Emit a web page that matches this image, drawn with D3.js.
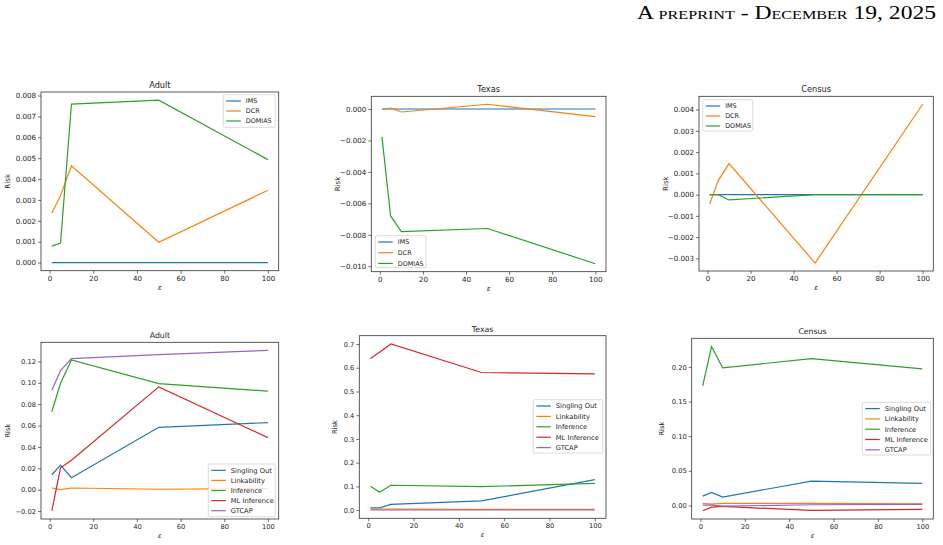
<!DOCTYPE html>
<html>
<head>
<meta charset="utf-8">
<script src="https://cdn.jsdelivr.net/npm/d3@7"></script>
<style>
  body { margin: 0; background: #fff; }
  svg text { font-family: "DejaVu Sans", sans-serif; fill: #222; }
  .header { font-family: "Liberation Serif", "DejaVu Serif", serif; font-variant: small-caps; fill: #000; }
</style>
</head>
<body>
<svg id="chart" width="943" height="545"></svg>
<script>
// epsilon values shared by every panel
const eps = [1, 5, 10, 50, 100];
const xTicks = [0, 20, 40, 60, 80, 100];

// top row: IMS / DCR / DOMIAS
const adultIMS = [0, 0, 0, 0, 0];
const adultDCR = [0.00237, 0.0032, 0.00464, 0.00097, 0.00346];
const adultDOMIAS = [0.00079, 0.00094, 0.00759, 0.00778, 0.00493];

const texasIMS = [0, 0, 0, 0, 0];
const texasDCR = [-0.00003, 0.00005, -0.00019, 0.0003, -0.00049];
const texasDOMIAS = [-0.00177, -0.0068, -0.0078, -0.0076, -0.00984];

const censusIMS = [0, 0, 0, 0, 0];
const censusDCR = [-0.00044, 0.00066, 0.00146, -0.00322, 0.00425];
const censusDOMIAS = [0, 0, -0.00025, 0, 0];

// bottom row: anonymeter-style risks
const adultSingling = [0.014, 0.023, 0.0112, 0.0584, 0.0627];
const adultLink = [0.0016, 0.0001, 0.0016, 0.0004, 0.001];
const adultInference = [0.0729, 0.0996, 0.1214, 0.0993, 0.0922];
const adultML = [-0.0199, 0.0205, 0.0276, 0.0962, 0.0487];
const adultGTCAP = [0.0931, 0.1114, 0.1226, 0.1263, 0.1304];

const texasSingling = [0.0098, 0.0098, 0.024, 0.039, 0.1285];
const texasLink = [0.004, 0.004, 0.004, 0.0035, 0.0035];
const texasInference = [0.1006, 0.0755, 0.1048, 0.0992, 0.113];
const texasML = [0.6385, 0.665, 0.7, 0.58, 0.574];
const texasGTCAP = [0.0005, 0.0005, 0.0005, 0.0005, 0.0005];

const censusSingling = [0.0135, 0.0188, 0.012, 0.0352, 0.0318];
const censusLink = [0.0029, 0.002, 0.0029, 0.0029, 0.0024];
const censusInference = [0.1725, 0.2294, 0.1986, 0.212, 0.197];
const censusML = [-0.0077, -0.0024, -0.0014, -0.0072, -0.0058];
const censusGTCAP = [0.0005, 0.0005, -0.001, 0.001, 0.0015];

// y tick values per panel
const adultTopTicks = [0, 0.001, 0.002, 0.003, 0.004, 0.005, 0.006, 0.007, 0.008];
const texasTopTicks = [0, -0.002, -0.004, -0.006, -0.008, -0.010];
const censusTopTicks = [-0.003, -0.002, -0.001, 0, 0.001, 0.002, 0.003, 0.004];
const adultBotTicks = [-0.02, 0, 0.02, 0.04, 0.06, 0.08, 0.10, 0.12];
const texasBotTicks = [0, 0.1, 0.2, 0.3, 0.4, 0.5, 0.6, 0.7];
const censusBotTicks = [0, 0.05, 0.10, 0.15, 0.20];

const topNames = ["IMS", "DCR", "DOMIAS"];
const botNames = ["Singling Out", "Linkability", "Inference", "ML Inference", "GTCAP"];
const colors = ["#1f77b4", "#ff7f0e", "#2ca02c", "#d62728", "#9467bd"];

let svg = d3.select("#chart");

svg.append("text")
   .attr("class", "header")
   .attr("x", 936)
   .attr("y", 19)
   .attr("text-anchor", "end")
   .attr("font-size", 19)
   .attr("textLength", 299)
   .attr("lengthAdjust", "spacingAndGlyphs")
   .text("A preprint - December 19, 2025");

let panels = [
  { title: "Adult", box: [41, 92, 278.7, 270.7], series: [adultIMS, adultDCR, adultDOMIAS], names: topNames,
    yTicks: adultTopTicks, fmt: ".3f", font: 7.1, legFont: 6.4, legend: [223.3, 94.7, 52, 32.6], legStep: 10 },
  { title: "Texas", box: [371.3, 96.3, 606, 271.7], series: [texasIMS, texasDCR, texasDOMIAS], names: topNames,
    yTicks: texasTopTicks, fmt: ".3f", font: 7.1, legFont: 6.4, legend: [375.3, 235.7, 50.7, 32], legStep: 10.7 },
  { title: "Census", box: [699, 96.3, 933.3, 271], series: [censusIMS, censusDCR, censusDOMIAS], names: topNames,
    yTicks: censusTopTicks, fmt: ".3f", font: 7.1, legFont: 6.4, legend: [702.7, 99.7, 50, 31.3], legStep: 10 },
  { title: "Adult", box: [41, 342.3, 278.7, 519], series: [adultSingling, adultLink, adultInference, adultML, adultGTCAP], names: botNames,
    yTicks: adultBotTicks, fmt: ".2f", font: 6.7, legFont: 6.7, legend: [208.3, 464, 67, 52.7], legStep: 10.1 },
  { title: "Texas", box: [359.3, 335.7, 606, 518.3], series: [texasSingling, texasLink, texasInference, texasML, texasGTCAP], names: botNames,
    yTicks: texasBotTicks, fmt: ".1f", font: 6.7, legFont: 6.7, legend: [533.3, 399.7, 69.4, 53.3], legStep: 10.4 },
  { title: "Census", box: [691.7, 338.3, 933.3, 519], series: [censusSingling, censusLink, censusInference, censusML, censusGTCAP], names: botNames,
    yTicks: censusBotTicks, fmt: ".2f", font: 6.7, legFont: 6.7, legend: [862.3, 402.3, 68.4, 52.7], legStep: 10.3 }
];

panels.forEach(drawPanel);

function drawPanel(p){
  let [x0, y0, x1, y1] = p.box;

  // matplotlib-like 5% margins
  let xExt = d3.extent(eps);
  let xPad = (xExt[1] - xExt[0]) * 0.05;
  let allY = p.series.flat();
  let yExt = d3.extent(allY);
  let yPad = (yExt[1] - yExt[0]) * 0.05;

  let xScale = d3.scaleLinear()
                 .domain([xExt[0] - xPad, xExt[1] + xPad])
                 .range([x0, x1]);
  let yScale = d3.scaleLinear()
                 .domain([yExt[0] - yPad, yExt[1] + yPad])
                 .range([y1, y0]);

  let g = svg.append("g");

  // axes
  let xAxis = d3.axisBottom(xScale).tickValues(xTicks).tickSize(3).tickPadding(2);
  let yAxis = d3.axisLeft(yScale).tickValues(p.yTicks).tickSize(3).tickPadding(2)
                .tickFormat(d3.format(p.fmt));

  let xg = g.append("g").attr("transform", `translate(0, ${y1})`).call(xAxis);
  let yg = g.append("g").attr("transform", `translate(${x0}, 0)`).call(yAxis);
  [xg, yg].forEach(a => {
    a.select(".domain").remove();
    a.selectAll("line").attr("stroke", "#333").attr("stroke-width", 0.7);
    a.selectAll("text").attr("font-size", p.font).attr("font-family", "DejaVu Sans").attr("fill", "#222");
  });

  // lines
  let lineGen = d3.line()
                  .x((d, i) => xScale(eps[i]))
                  .y(d => yScale(d));

  p.series.forEach((s, i) => {
    g.append("path")
     .datum(s)
     .attr("d", lineGen)
     .attr("fill", "none")
     .attr("stroke", colors[i])
     .attr("stroke-width", 1.2);
  });

  // frame
  g.append("rect")
   .attr("x", x0).attr("y", y0)
   .attr("width", x1 - x0).attr("height", y1 - y0)
   .attr("fill", "none")
   .attr("stroke", "#333")
   .attr("stroke-width", 0.8);

  // title and labels
  g.append("text")
   .attr("x", (x0 + x1) / 2)
   .attr("y", y0 - 4)
   .attr("text-anchor", "middle")
   .attr("font-size", p.font + 1.1)
   .text(p.title);

  g.append("text")
   .attr("x", (x0 + x1) / 2)
   .attr("y", y1 + 19)
   .attr("text-anchor", "middle")
   .attr("font-size", p.font)
   .attr("font-style", "italic")
   .text("ε");

  let yLabX = x0 - (p.yTicks.some(v => v < 0) ? 31 : 28);
  if (p.fmt === ".1f") yLabX = x0 - 22.6;
  if (p.fmt === ".3f" && !p.yTicks.some(v => v < 0)) yLabX = x0 - 31.3;
  g.append("text")
   .attr("transform", `translate(${yLabX}, ${(y0 + y1) / 2}) rotate(-90)`)
   .attr("text-anchor", "middle")
   .attr("font-size", p.font)
   .text("Risk");

  // legend
  let [lx, ly, lw, lh] = p.legend;
  let leg = g.append("g");
  leg.append("rect")
     .attr("x", lx).attr("y", ly)
     .attr("width", lw).attr("height", lh)
     .attr("rx", 1.5)
     .attr("fill", "white")
     .attr("fill-opacity", 0.8)
     .attr("stroke", "#ccc")
     .attr("stroke-width", 0.7);

  p.names.forEach((n, i) => {
    let cy = ly + 6.3 + i * p.legStep;
    leg.append("line")
       .attr("x1", lx + 3).attr("x2", lx + 17.5)
       .attr("y1", cy).attr("y2", cy)
       .attr("stroke", colors[i])
       .attr("stroke-width", 1.2);
    leg.append("text")
       .attr("x", lx + 22.5)
       .attr("y", cy)
       .attr("dy", "0.35em")
       .attr("font-size", p.legFont)
       .text(n);
  });
}
</script>
</body>
</html>
